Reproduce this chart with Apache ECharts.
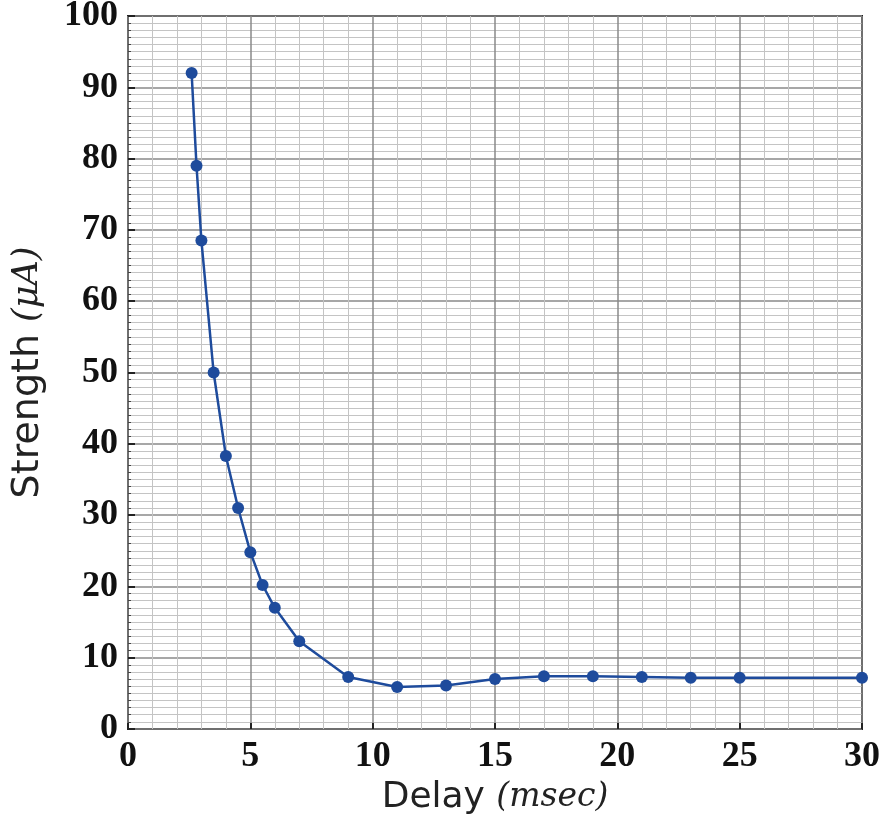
<!DOCTYPE html>
<html>
<head>
<meta charset="utf-8">
<script src="https://cdn.jsdelivr.net/npm/echarts@6/dist/echarts.min.js"></script>
<style>
  html, body { margin: 0; padding: 0; background: #fff; }
  #chart { width: 879px; height: 830px; }
</style>
</head>
<body>
<div id="chart"></div>
<script>
// delay in msec and stimulus strength in uA
var delay = [2.6, 2.8, 3.0, 3.5, 4.0, 4.5, 5.0, 5.5, 6.0, 7.0, 9.0, 11, 13, 15, 17, 19, 21, 23, 25, 30];
var strength = [92, 79, 68.5, 50, 38.3, 31, 24.8, 20.2, 17, 12.3, 7.3, 5.9, 6.1, 7.0, 7.4, 7.4, 7.3, 7.2, 7.2, 7.2];

var pts = delay.map(function (d, i) { return [d, strength[i]]; });

var chart = echarts.init(document.getElementById('chart'));
var tickFont = {
  fontFamily: '"Liberation Serif", "DejaVu Serif", serif',
  fontWeight: 'bold',
  fontSize: 36,
  color: '#111'
};

chart.setOption({
  backgroundColor: '#fff',
  animation: false,
  grid: {
    left: 128, right: 17, top: 16, bottom: 101,
    outerBoundsMode: 'none',
    containLabel: false,
    show: true,
    borderColor: '#222',
    borderWidth: 2,
    backgroundColor: 'transparent'
  },
  xAxis: {
    type: 'value',
    min: 0, max: 30, interval: 5,
    name: 'Delay {it|(msec)}',
    nameLocation: 'middle',
    nameGap: 40,
    nameTextStyle: {
      fontFamily: '"DejaVu Sans", Verdana, sans-serif',
      fontSize: 36,
      color: '#222',
      rich: {
        it: { fontFamily: '"DejaVu Serif", serif', fontStyle: 'italic', fontSize: 33, color: '#222' }
      }
    },
    axisLine: { show: false },
    axisTick: { show: true, inside: true, length: 6, lineStyle: { color: '#222', width: 2 } },
    axisLabel: Object.assign({ margin: 10 }, tickFont),
    splitLine: { show: true, lineStyle: { color: '#8a8a8a', width: 1.5 } },
    minorTick: { show: false, splitNumber: 5 },
    minorSplitLine: { show: true, lineStyle: { color: '#c4c4c4', width: 1 } }
  },
  yAxis: {
    type: 'value',
    min: 0, max: 100, interval: 10,
    name: 'Strength {it|(μA)}',
    nameLocation: 'middle',
    nameGap: 81,
    nameTextStyle: {
      fontFamily: '"DejaVu Sans", Verdana, sans-serif',
      fontSize: 38,
      color: '#222',
      rich: {
        it: { fontFamily: '"DejaVu Serif", serif', fontStyle: 'italic', fontSize: 35, color: '#222' }
      }
    },
    axisLine: { show: false },
    axisTick: { show: true, inside: true, length: 7, lineStyle: { color: '#222', width: 2 } },
    axisLabel: Object.assign({ margin: 10 }, tickFont),
    splitLine: { show: true, lineStyle: { color: '#8a8a8a', width: 1.5 } },
    minorTick: { show: true, splitNumber: 10, length: 3, lineStyle: { color: '#444' } },
    minorSplitLine: { show: true, lineStyle: { color: '#c4c4c4', width: 1 } }
  },
  series: [{
    type: 'line',
    data: pts,
    symbol: 'circle',
    symbolSize: 12,
    clip: true,
    lineStyle: { color: '#1e4b9c', width: 2.5 },
    itemStyle: { color: '#1e4b9c' }
  }]
});
</script>
</body>
</html>
